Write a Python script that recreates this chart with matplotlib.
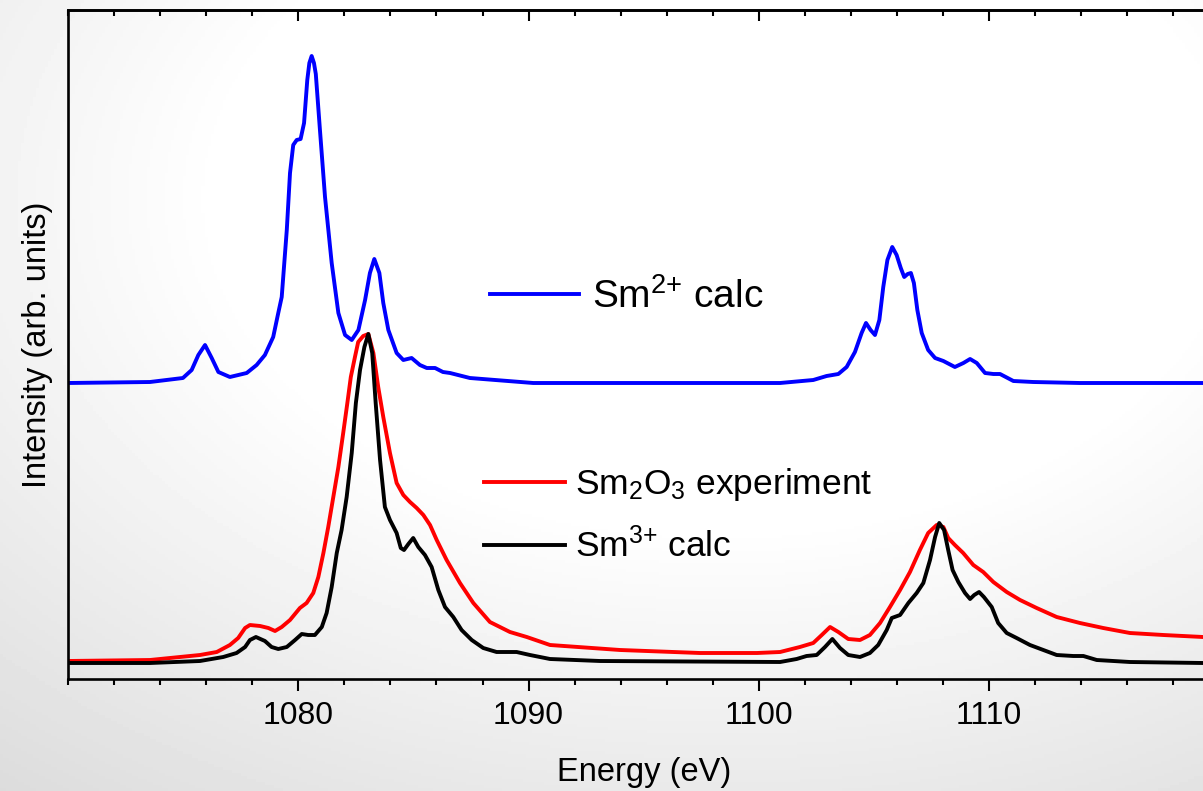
import numpy as np
import matplotlib
matplotlib.use("Agg")
import matplotlib.pyplot as plt

plt.rcParams["font.family"] = ["Liberation Sans", "DejaVu Sans"]
plt.rcParams["mathtext.fontset"] = "custom"
plt.rcParams["mathtext.rm"] = "Liberation Sans"
plt.rcParams["mathtext.it"] = "Liberation Sans"
plt.rcParams["mathtext.default"] = "regular"

# Sm2+ calc (blue), drawn with a vertical offset
sm2_energy = [1070.0, 1073.56, 1074.99, 1075.37, 1075.66, 1075.95, 1076.24, 1076.53, 1077.03, 1077.76,
              1078.19, 1078.55, 1078.91, 1079.13, 1079.28, 1079.50, 1079.64, 1079.78, 1079.93, 1080.10,
              1080.25, 1080.39, 1080.48, 1080.58, 1080.68, 1080.76, 1080.94, 1081.16, 1081.45, 1081.74,
              1082.03, 1082.32, 1082.61, 1082.90, 1083.11, 1083.30, 1083.52, 1083.69, 1083.91, 1084.27,
              1084.56, 1084.92, 1085.28, 1085.58, 1085.94, 1086.28, 1086.59, 1087.45, 1090.2, 1100.92,
              1102.36, 1102.94, 1103.45, 1103.81, 1104.17, 1104.46, 1104.65, 1104.85, 1105.04, 1105.23,
              1105.40, 1105.58, 1105.79, 1105.98, 1106.16, 1106.31, 1106.46, 1106.60, 1106.73, 1106.88,
              1107.07, 1107.35, 1107.65, 1108.01, 1108.51, 1108.88, 1109.17, 1109.46, 1109.82, 1110.18,
              1110.47, 1111.05, 1111.91, 1113.94, 1120.0]
sm2_int = [296, 297, 301, 309, 324, 334, 321, 307, 302, 306,
           314, 324, 342, 366, 382, 449, 506, 534, 539, 540,
           556, 599, 616, 623, 616, 605, 549, 482, 416, 366,
           344, 339, 349, 379, 406, 420, 406, 376, 349, 326,
           319, 321, 314, 311, 311, 307, 306, 301, 296, 296,
           299, 303, 305, 312, 327, 346, 356, 349, 344, 359,
           392, 419, 432, 424, 411, 402, 405, 406, 396, 369,
           346, 329, 321, 318, 312, 316, 320, 316, 306, 305,
           305, 298, 297, 296, 296]

# Sm2O3 experiment (red)
exp_energy = [1070.0, 1073.56, 1075.73, 1076.46, 1077.03, 1077.39, 1077.69, 1077.90, 1078.34, 1078.70,
              1078.99, 1079.28, 1079.64, 1080.07, 1080.36, 1080.65, 1080.87, 1081.09, 1081.30, 1081.52,
              1081.74, 1081.95, 1082.13, 1082.28, 1082.46, 1082.60, 1082.82, 1083.04, 1083.26, 1083.47,
              1083.69, 1083.98, 1084.27, 1084.56, 1084.85, 1085.14, 1085.43, 1085.72, 1086.01, 1086.44,
              1087.02, 1087.60, 1088.32, 1089.19, 1089.92, 1090.93, 1093.97, 1097.44, 1099.92, 1100.92,
              1101.78, 1102.36, 1102.73, 1103.09, 1103.45, 1103.88, 1104.39, 1104.82, 1105.26, 1105.69,
              1106.13, 1106.56, 1106.99, 1107.35, 1107.72, 1108.01, 1108.22, 1108.51, 1108.87, 1109.31,
              1109.74, 1110.18, 1110.76, 1111.34, 1112.06, 1112.93, 1113.94, 1114.95, 1116.11, 1117.56,
              1119.28, 1120.0]
exp_int = [18, 19, 24, 27, 34, 41, 51, 54, 53, 51,
           48, 52, 59, 71, 76, 86, 102, 126, 152, 182,
           212, 246, 276, 302, 322, 337, 343, 345, 326, 292,
           262, 226, 196, 184, 177, 171, 164, 154, 139, 119,
           96, 76, 57, 47, 42, 34, 29, 26, 26, 27,
           32, 36, 44, 52, 47, 40, 39, 44, 56, 72,
           89, 107, 129, 146, 154, 152, 141, 134, 126, 114,
           107, 97, 87, 79, 71, 62, 56, 51, 46, 44,
           42, 42]

# Sm3+ calc (black)
sm3_energy = [1070.0, 1073.56, 1075.73, 1076.74, 1077.32, 1077.69, 1077.90, 1078.16, 1078.55, 1078.84,
              1079.13, 1079.50, 1079.86, 1080.15, 1080.43, 1080.72, 1081.02, 1081.23, 1081.45, 1081.67,
              1081.88, 1082.10, 1082.32, 1082.50, 1082.68, 1082.87, 1083.04, 1083.21, 1083.36, 1083.55,
              1083.76, 1083.98, 1084.27, 1084.45, 1084.59, 1084.78, 1084.99, 1085.21, 1085.50, 1085.79,
              1086.08, 1086.37, 1086.73, 1087.09, 1087.53, 1088.03, 1088.61, 1089.48, 1090.06, 1090.93,
              1093.10, 1100.92, 1101.64, 1102.07, 1102.51, 1102.87, 1103.19, 1103.52, 1103.88, 1104.39,
              1104.82, 1105.18, 1105.55, 1105.77, 1106.13, 1106.49, 1106.85, 1107.14, 1107.43, 1107.65,
              1107.83, 1108.04, 1108.22, 1108.41, 1108.66, 1108.95, 1109.17, 1109.35, 1109.56, 1109.77,
              1110.11, 1110.39, 1110.76, 1111.19, 1111.77, 1112.35, 1112.93, 1113.65, 1114.09, 1114.67,
              1116.11, 1119.28, 1120.0]
sm3_int = [16, 16, 18, 22, 26, 32, 39, 42, 38, 32,
           30, 32, 39, 45, 44, 44, 52, 66, 92, 126,
           149, 182, 226, 276, 309, 332, 345, 326, 276, 219,
           172, 159, 146, 131, 129, 135, 141, 132, 124, 112,
           89, 72, 62, 49, 39, 31, 27, 27, 24, 20,
           18, 17, 20, 23, 24, 32, 40, 31, 24, 22,
           26, 34, 49, 61, 64, 76, 86, 96, 119, 142,
           156, 149, 129, 109, 97, 86, 80, 84, 87, 82,
           72, 56, 46, 41, 34, 29, 24, 23, 23, 19,
           17, 16, 16]

major_ticks = [1080, 1090, 1100, 1110]
minor_ticks = np.arange(1070, 1121, 2)

fig = plt.figure(figsize=(12.03, 7.91), dpi=100)

# soft grey vignette behind everything
bg = fig.add_axes([0, 0, 1, 1], zorder=-10)
gx, gy = np.meshgrid(np.linspace(0, 1, 400), np.linspace(1, 0, 260))
r = np.hypot(gx - 0.6, gy - 0.75)
shade = 1 - np.clip(64.5 * (r - 0.417), 0, 40) / 255.0
bg.imshow(shade, cmap="gray", vmin=0, vmax=1, aspect="auto", extent=[0, 1, 0, 1])
bg.axis("off")

ax = fig.add_axes([68 / 1203, 112 / 791, 1151.5 / 1203, 669 / 791])
ax.set_facecolor("none")

lw = 2.8
l_sm2, = ax.plot(sm2_energy, sm2_int, color="#0000ff", lw=lw, solid_joinstyle="round")
l_exp, = ax.plot(exp_energy, exp_int, color="#ff0000", lw=lw, solid_joinstyle="round")
l_sm3, = ax.plot(sm3_energy, sm3_int, color="black", lw=lw, solid_joinstyle="round")

ax.set_xlim(1070, 1120)
ax.set_ylim(0, 669)
ax.set_xticks(major_ticks)
ax.set_xticks(minor_ticks, minor=True)
ax.set_yticks([])
ax.tick_params(axis="x", which="major", direction="out", length=8.5, width=1.5,
               labelsize=23, pad=7)
ax.tick_params(axis="x", which="minor", direction="out", length=4.5, width=1.5)
for side in ["left", "bottom", "top", "right"]:
    ax.spines[side].set_linewidth(1.9)

top = ax.secondary_xaxis("top")
top.set_xticks(major_ticks)
top.set_xticks(minor_ticks, minor=True)
top.tick_params(axis="x", which="major", direction="in", length=8, width=1.5, labeltop=False)
top.tick_params(axis="x", which="minor", direction="in", length=4, width=1.5)
top.spines["top"].set_linewidth(1.9)

ax.set_xlabel("Energy (eV)", fontsize=23.5, labelpad=19)
ax.set_ylabel("Intensity (arb. units)", fontsize=23.5, labelpad=11)

leg1 = ax.legend([l_sm2], ["Sm$^{2{+}}$ calc"], loc="center left",
                 bbox_to_anchor=(0.3665, 0.571), frameon=False, fontsize=28,
                 handlelength=2.3, handletextpad=0.33, borderpad=0, borderaxespad=0)
ax.add_artist(leg1)
ax.legend([l_exp, l_sm3], ["Sm$_2$O$_3$ experiment", "Sm$^{3{+}}$ calc"], loc="center left",
          bbox_to_anchor=(0.3613, 0.245), frameon=False, fontsize=25.5,
          handlelength=2.3, handletextpad=0.28, labelspacing=0.7,
          borderpad=0, borderaxespad=0)

fig.savefig("out.png", dpi=100)
